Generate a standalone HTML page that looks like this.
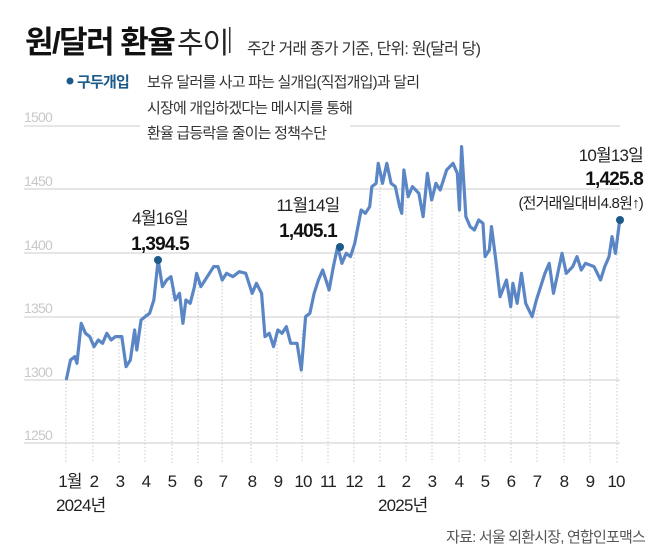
<!DOCTYPE html>
<html><head><meta charset="utf-8"><style>
body{margin:0;width:670px;height:547px;background:#fff;overflow:hidden;font-family:"Liberation Sans","Noto Sans CJK KR",sans-serif}
</style></head><body>
<svg width="670" height="547" viewBox="0 0 670 547" xmlns="http://www.w3.org/2000/svg" font-family="Liberation Sans, Noto Sans CJK KR, sans-serif">
<text x="25" y="53" font-size="31" font-weight="bold" fill="#111" letter-spacing="-1.5">원/달러 환율</text>
<text x="177" y="53" font-size="29" fill="#222" letter-spacing="-1">추이</text>
<rect x="229" y="27" width="1.5" height="26" fill="#333"/>
<text x="247" y="54" font-size="16" fill="#333" letter-spacing="-0.8">주간 거래 종가 기준, 단위: 원(달러 당)</text>
<circle cx="70" cy="81" r="3.5" fill="#1c5a8a"/>
<text x="77" y="87" font-size="15" font-weight="bold" fill="#1c5a8a" letter-spacing="-0.8">구두개입</text>
<g font-size="15" fill="#333" letter-spacing="-0.8">
<text x="147" y="87">보유 달러를 사고 파는 실개입(직접개입)과 달리</text>
<text x="147" y="113">시장에 개입하겠다는 메시지를 통해</text>
<text x="147" y="138">환율 급등락을 줄이는 정책수단</text>
</g>
<g stroke="#d8d8d8" stroke-width="1.2">
<line x1="24" y1="126" x2="140" y2="126"/><line x1="350" y1="126" x2="620" y2="126"/>
<line x1="24" y1="189" x2="620" y2="189"/><line x1="24" y1="253" x2="620" y2="253"/>
<line x1="24" y1="317" x2="620" y2="317"/><line x1="24" y1="380" x2="620" y2="380"/>
<line x1="24" y1="443" x2="620" y2="443"/>
</g>
<g font-size="14" fill="#c8c8c8" letter-spacing="-0.8">
<text x="24" y="122">1500</text><text x="24" y="186">1450</text><text x="24" y="250">1400</text>
<text x="24" y="313">1350</text><text x="24" y="377">1300</text><text x="24" y="440">1250</text>
</g>
<g stroke="#bbb" stroke-width="0.8" stroke-dasharray="1.5,2">
<line x1="66" y1="380" x2="66" y2="463"/><line x1="93" y1="330" x2="93" y2="463"/><line x1="119" y1="335" x2="119" y2="463"/><line x1="145" y1="310" x2="145" y2="463"/><line x1="172" y1="290" x2="172" y2="463"/><line x1="198" y1="280" x2="198" y2="463"/><line x1="222" y1="275" x2="222" y2="463"/><line x1="251" y1="290" x2="251" y2="463"/><line x1="277" y1="330" x2="277" y2="463"/><line x1="302" y1="330" x2="302" y2="463"/><line x1="328" y1="280" x2="328" y2="463"/><line x1="354" y1="240" x2="354" y2="463"/><line x1="380" y1="180" x2="380" y2="463"/><line x1="406" y1="190" x2="406" y2="463"/><line x1="432" y1="200" x2="432" y2="463"/><line x1="459" y1="170" x2="459" y2="463"/><line x1="485" y1="260" x2="485" y2="463"/><line x1="511" y1="300" x2="511" y2="463"/><line x1="537" y1="310" x2="537" y2="463"/><line x1="564" y1="270" x2="564" y2="463"/><line x1="590" y1="270" x2="590" y2="463"/><line x1="617" y1="230" x2="617" y2="463"/>
</g>
<g transform="translate(0,100) scale(0.4274,0.3333)">
<polyline fill="none" stroke="#5b86c5" stroke-width="3.2" vector-effect="non-scaling-stroke" stroke-linejoin="round" points="155,840 165,780 175,770 180,790 185,730 190,670 200,700 210,710 220,740 230,720 240,730 250,700 260,720 270,710 285,710 295,800 305,780 315,690 320,750 330,660 340,650 350,640 360,600 370,480 380,560 390,540 400,530 410,600 420,580 428,670 435,600 445,610 455,560 460,520 470,560 480,540 490,520 500,500 510,500 520,540 530,520 545,530 560,515 575,520 590,580 600,550 612,580 620,710 630,700 640,740 650,690 660,700 670,680 680,730 695,730 705,810 715,650 725,640 735,580 745,540 755,510 770,570 780,500 790,440 800,490 810,460 820,470 830,430 845,330 855,340 865,320 870,260 880,250 885,190 895,250 905,190 915,250 925,260 935,320 940,340 945,210 955,290 965,260 980,280 990,350 1000,220 1010,300 1020,250 1030,270 1045,210 1060,190 1070,220 1075,330 1080,140 1090,350 1100,380 1110,390 1120,360 1130,370 1135,470 1145,450 1150,380 1160,480 1170,590 1185,540 1195,620 1200,550 1210,610 1220,520 1230,610 1245,650 1255,600 1265,560 1275,520 1285,490 1295,580 1305,520 1315,460 1325,520 1340,500 1350,470 1360,510 1370,490 1390,500 1405,540 1415,500 1425,470 1432,410 1440,460 1450,360"/>
</g>
<circle cx="158" cy="260" r="4" fill="#1c5a8a"/><circle cx="340" cy="247" r="4" fill="#1c5a8a"/><circle cx="620" cy="220" r="4" fill="#1c5a8a"/>
<g text-anchor="middle" fill="#222" letter-spacing="-0.8">
<text x="160" y="224" font-size="17">4월16일</text>
<text x="160" y="250" font-size="19" font-weight="bold" fill="#111">1,394.5</text>
<text x="308" y="211" font-size="17">11월14일</text>
<text x="308" y="237" font-size="19" font-weight="bold" fill="#111">1,405.1</text>
</g>
<g text-anchor="end" fill="#222" letter-spacing="-0.8">
<text x="643" y="161" font-size="17">10월13일</text>
<text x="643" y="185" font-size="19" font-weight="bold" fill="#111">1,425.8</text>
<text x="643" y="208" font-size="15">(전거래일대비4.8원↑)</text>
</g>
<g font-size="17" fill="#222" text-anchor="middle" letter-spacing="-0.8">
<text x="70" y="487">1월</text><text x="94" y="487">2</text><text x="120" y="487">3</text><text x="146" y="487">4</text><text x="172" y="487">5</text><text x="198" y="487">6</text><text x="223" y="487">7</text><text x="252" y="487">8</text><text x="278" y="487">9</text><text x="303" y="487">10</text><text x="328" y="487">11</text><text x="354" y="487">12</text><text x="381" y="487">1</text><text x="406" y="487">2</text><text x="432" y="487">3</text><text x="459" y="487">4</text><text x="485" y="487">5</text><text x="511" y="487">6</text><text x="537" y="487">7</text><text x="564" y="487">8</text><text x="590" y="487">9</text><text x="616" y="487">10</text>
</g>
<text x="56" y="511" font-size="17" fill="#222" letter-spacing="-0.8">2024년</text>
<text x="378" y="511" font-size="17" fill="#222" letter-spacing="-0.8">2025년</text>
<text x="645" y="542" font-size="15" fill="#555" text-anchor="end" letter-spacing="-0.8">자료: 서울 외환시장, 연합인포맥스</text>
</svg>
</body></html>
